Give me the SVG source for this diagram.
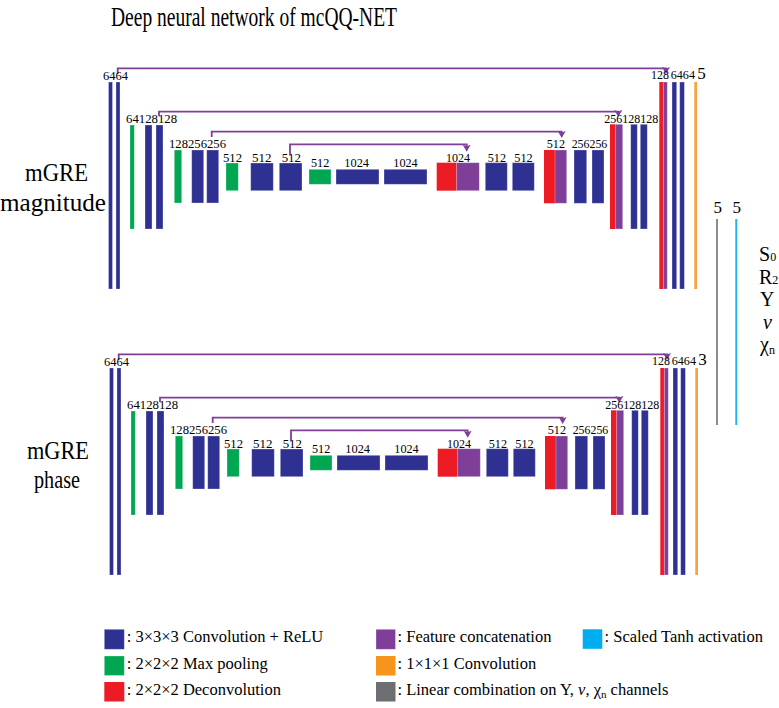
<svg xmlns="http://www.w3.org/2000/svg" width="779" height="708" viewBox="0 0 779 708">
<defs>
<style>
text{font-family:"Liberation Serif","Times New Roman",serif;fill:#000}
.n{font-size:12px}
.big{font-size:17px}
.lg{font-size:16.5px}
.side{font-size:20px}
.b{fill:#2E3192}
.g{fill:#00A651}
.r{fill:#ED1C24}
.p{fill:#7F3F98}
.o{fill:#F7A23A}
rect.b,rect.g,rect.p{stroke:#fff;stroke-opacity:.35;stroke-width:.8}
.skip{fill:none;stroke:#7F3F98;stroke-width:1.8;marker-end:url(#ah)}
</style>
<marker id="ah" viewBox="0 0 7 8" refX="4" refY="4" markerWidth="7" markerHeight="8" markerUnits="userSpaceOnUse" orient="auto"><path d="M0,0 L7,4 L0,8 L1.5,4 z" fill="#7F3F98"/></marker>
</defs>
<rect width="779" height="708" fill="#fff"/>
<text id="title" x="111" y="26" font-size="28" textLength="286" lengthAdjust="spacingAndGlyphs">Deep neural network of mcQQ-NET</text>

<g id="label-magnitude">
<text x="25" y="181" font-size="25" textLength="63" lengthAdjust="spacingAndGlyphs">mGRE</text>
<text x="0" y="211" font-size="25" textLength="106" lengthAdjust="spacingAndGlyphs">magnitude</text>
</g>
<g id="label-phase">
<text x="27" y="459" font-size="25" textLength="62" lengthAdjust="spacingAndGlyphs">mGRE</text>
<text x="34" y="488" font-size="25" textLength="46" lengthAdjust="spacingAndGlyphs">phase</text>
</g>

<g id="net-magnitude">
<g id="connectors-mag">
<path class="skip" d="M117.7,74 V68.3 H666 V71"/>
<path class="skip" d="M159,116 V111.7 H618.3 V114"/>
<path class="skip" d="M211.7,137 V131.7 H561.7 V135"/>
<path class="skip" d="M290,155 V144.3 H466.7 V148.7"/>
</g>
<g id="mag-c1"><rect class="b" x="108.5" y="82" width="4" height="207"/><rect class="b" x="116" y="82" width="4" height="207"/><text class="n" x="103" y="80" textLength="25" lengthAdjust="spacingAndGlyphs">6464</text></g>
<g id="mag-pool1"><rect class="g" x="130" y="125" width="4.3" height="104"/><text class="n" x="126" y="123" textLength="51" lengthAdjust="spacingAndGlyphs">64128128</text></g>
<g id="mag-c2"><rect class="b" x="145" y="125" width="7" height="104"/><rect class="b" x="156" y="125" width="7" height="104"/></g>
<g id="mag-pool2"><rect class="g" x="174.3" y="150" width="7.4" height="53"/><text class="n" x="169" y="148" textLength="57" lengthAdjust="spacingAndGlyphs">128256256</text></g>
<g id="mag-c3"><rect class="b" x="191.7" y="150" width="12" height="53"/><rect class="b" x="206.7" y="150" width="12" height="53"/></g>
<g id="mag-pool3"><rect class="g" x="226" y="163" width="12.3" height="27.7"/><text class="n" x="223" y="161.7" textLength="19" lengthAdjust="spacingAndGlyphs">512</text></g>
<g id="mag-c4"><rect class="b" x="250.7" y="163" width="22.6" height="27.7"/><rect class="b" x="279.3" y="163" width="22.7" height="27.7"/><text class="n" x="252" y="161.7" textLength="19.5" lengthAdjust="spacingAndGlyphs">512</text><text class="n" x="281.7" y="161.7" textLength="19.3" lengthAdjust="spacingAndGlyphs">512</text></g>
<g id="mag-pool4"><rect class="g" x="309" y="169.3" width="22" height="15"/><text class="n" x="311" y="166.7" textLength="18.3" lengthAdjust="spacingAndGlyphs">512</text></g>
<g id="mag-c5"><rect class="b" x="336" y="169.3" width="43" height="15"/><rect class="b" x="384" y="169.3" width="43" height="15"/><text class="n" x="344.3" y="166.7" textLength="24.7" lengthAdjust="spacingAndGlyphs">1024</text><text class="n" x="393.3" y="166.7" textLength="24.4" lengthAdjust="spacingAndGlyphs">1024</text></g>
<g id="mag-up4"><rect class="r" x="436.7" y="162.7" width="20" height="28"/><rect class="p" x="456.7" y="162.7" width="22.6" height="28"/><text class="n" x="446" y="161.7" textLength="24" lengthAdjust="spacingAndGlyphs">1024</text></g>
<g id="mag-c6"><rect class="b" x="485.3" y="162.7" width="22" height="28"/><rect class="b" x="512.3" y="162.7" width="22" height="28"/><text class="n" x="487.7" y="161.7" textLength="18.3" lengthAdjust="spacingAndGlyphs">512</text><text class="n" x="514.3" y="161.7" textLength="18.4" lengthAdjust="spacingAndGlyphs">512</text></g>
<g id="mag-up3"><rect class="r" x="544" y="150" width="11" height="53.3"/><rect class="p" x="555" y="150" width="11.7" height="53.3"/><text class="n" x="546.7" y="148.3" textLength="18.3" lengthAdjust="spacingAndGlyphs">512</text></g>
<g id="mag-c7"><rect class="b" x="574" y="150" width="12.7" height="53.3"/><rect class="b" x="592" y="150" width="12" height="53.3"/><text class="n" x="571.7" y="148" textLength="35.6" lengthAdjust="spacingAndGlyphs">256256</text></g>
<g id="mag-up2"><rect class="r" x="610" y="124.3" width="5.7" height="104.7"/><rect class="p" x="615.7" y="124.3" width="7" height="104.7"/><text class="n" x="604.3" y="123.3" textLength="54" lengthAdjust="spacingAndGlyphs">256128128</text></g>
<g id="mag-c8"><rect class="b" x="630.7" y="124.3" width="6.6" height="104.7"/><rect class="b" x="640.3" y="124.3" width="7" height="104.7"/></g>
<g id="mag-up1"><rect class="r" x="659.3" y="82" width="4" height="207"/><rect class="p" x="663.3" y="82" width="4" height="207"/><text class="n" x="651" y="79" textLength="18" lengthAdjust="spacingAndGlyphs">128</text></g>
<g id="mag-c9"><rect class="b" x="672" y="82" width="4.7" height="207"/><rect class="b" x="679.7" y="82" width="4.7" height="207"/><text class="n" x="670.7" y="79" textLength="24.3" lengthAdjust="spacingAndGlyphs">6464</text></g>
<g id="mag-out"><rect class="o" x="694.3" y="82" width="2.7" height="207"/><text class="big" x="697.3" y="79">5</text></g>
</g>

<g id="net-phase" transform="translate(1,286)">
<g id="connectors-phase">
<path class="skip" d="M117.7,74 V68.3 H666 V71"/>
<path class="skip" d="M159,116 V111.7 H618.3 V114"/>
<path class="skip" d="M211.7,137 V131.7 H561.7 V135"/>
<path class="skip" d="M290,155 V144.3 H466.7 V148.7"/>
</g>
<g id="ph-c1"><rect class="b" x="108.5" y="82" width="4" height="207"/><rect class="b" x="116" y="82" width="4" height="207"/><text class="n" x="103" y="80" textLength="25" lengthAdjust="spacingAndGlyphs">6464</text></g>
<g id="ph-pool1"><rect class="g" x="130" y="125" width="4.3" height="104"/><text class="n" x="126" y="123" textLength="51" lengthAdjust="spacingAndGlyphs">64128128</text></g>
<g id="ph-c2"><rect class="b" x="145" y="125" width="7" height="104"/><rect class="b" x="156" y="125" width="7" height="104"/></g>
<g id="ph-pool2"><rect class="g" x="174.3" y="150" width="7.4" height="53"/><text class="n" x="169" y="148" textLength="57" lengthAdjust="spacingAndGlyphs">128256256</text></g>
<g id="ph-c3"><rect class="b" x="191.7" y="150" width="12" height="53"/><rect class="b" x="206.7" y="150" width="12" height="53"/></g>
<g id="ph-pool3"><rect class="g" x="226" y="163" width="12.3" height="27.7"/><text class="n" x="223" y="161.7" textLength="19" lengthAdjust="spacingAndGlyphs">512</text></g>
<g id="ph-c4"><rect class="b" x="250.7" y="163" width="22.6" height="27.7"/><rect class="b" x="279.3" y="163" width="22.7" height="27.7"/><text class="n" x="252" y="161.7" textLength="19.5" lengthAdjust="spacingAndGlyphs">512</text><text class="n" x="281.7" y="161.7" textLength="19.3" lengthAdjust="spacingAndGlyphs">512</text></g>
<g id="ph-pool4"><rect class="g" x="309" y="169.3" width="22" height="15"/><text class="n" x="311" y="166.7" textLength="18.3" lengthAdjust="spacingAndGlyphs">512</text></g>
<g id="ph-c5"><rect class="b" x="336" y="169.3" width="43" height="15"/><rect class="b" x="384" y="169.3" width="43" height="15"/><text class="n" x="344.3" y="166.7" textLength="24.7" lengthAdjust="spacingAndGlyphs">1024</text><text class="n" x="393.3" y="166.7" textLength="24.4" lengthAdjust="spacingAndGlyphs">1024</text></g>
<g id="ph-up4"><rect class="r" x="436.7" y="162.7" width="20" height="28"/><rect class="p" x="456.7" y="162.7" width="22.6" height="28"/><text class="n" x="446" y="161.7" textLength="24" lengthAdjust="spacingAndGlyphs">1024</text></g>
<g id="ph-c6"><rect class="b" x="485.3" y="162.7" width="22" height="28"/><rect class="b" x="512.3" y="162.7" width="22" height="28"/><text class="n" x="487.7" y="161.7" textLength="18.3" lengthAdjust="spacingAndGlyphs">512</text><text class="n" x="514.3" y="161.7" textLength="18.4" lengthAdjust="spacingAndGlyphs">512</text></g>
<g id="ph-up3"><rect class="r" x="544" y="150" width="11" height="53.3"/><rect class="p" x="555" y="150" width="11.7" height="53.3"/><text class="n" x="546.7" y="148.3" textLength="18.3" lengthAdjust="spacingAndGlyphs">512</text></g>
<g id="ph-c7"><rect class="b" x="574" y="150" width="12.7" height="53.3"/><rect class="b" x="592" y="150" width="12" height="53.3"/><text class="n" x="571.7" y="148" textLength="35.6" lengthAdjust="spacingAndGlyphs">256256</text></g>
<g id="ph-up2"><rect class="r" x="610" y="124.3" width="5.7" height="104.7"/><rect class="p" x="615.7" y="124.3" width="7" height="104.7"/><text class="n" x="604.3" y="123.3" textLength="54" lengthAdjust="spacingAndGlyphs">256128128</text></g>
<g id="ph-c8"><rect class="b" x="630.7" y="124.3" width="6.6" height="104.7"/><rect class="b" x="640.3" y="124.3" width="7" height="104.7"/></g>
<g id="ph-up1"><rect class="r" x="659.3" y="82" width="4" height="207"/><rect class="p" x="663.3" y="82" width="4" height="207"/><text class="n" x="651" y="79" textLength="18" lengthAdjust="spacingAndGlyphs">128</text></g>
<g id="ph-c9"><rect class="b" x="672" y="82" width="4.7" height="207"/><rect class="b" x="679.7" y="82" width="4.7" height="207"/><text class="n" x="670.7" y="79" textLength="24.3" lengthAdjust="spacingAndGlyphs">6464</text></g>
<g id="ph-out"><rect class="o" x="694.3" y="82" width="2.7" height="207"/><text class="big" x="697.3" y="79">3</text></g>
</g>

<g id="lincomb"><rect x="716" y="219" width="2" height="206" fill="#8C8C8C"/><text class="big" x="713.5" y="213.3">5</text></g>
<g id="tanh"><rect x="735.3" y="219" width="2" height="206" fill="#1CB5EC"/><text class="big" x="732.5" y="213.3">5</text></g>
<g id="outputs">
<text class="side" x="759" y="261">S<tspan font-size="12">0</tspan></text>
<text class="side" x="759" y="284">R<tspan font-size="12">2</tspan></text>
<text class="side" x="760" y="306">Y</text>
<text class="side" x="763" y="329" font-style="italic">ν</text>
<text class="side" x="760" y="351">χ<tspan font-size="12" dy="3">n</tspan></text>
</g>

<g id="legend">
<rect class="b" x="104.3" y="629.3" width="20" height="20"/>
<text class="lg" x="126.7" y="642">: 3×3×3 Convolution + ReLU</text>
<rect class="g" x="104.3" y="656" width="20" height="19.5"/>
<text class="lg" x="126.7" y="668.5">: 2×2×2 Max pooling</text>
<rect class="r" x="104.3" y="682" width="20" height="19.5"/>
<text class="lg" x="126.7" y="695">: 2×2×2 Deconvolution</text>
<rect class="p" x="376" y="629.3" width="19.5" height="20"/>
<text class="lg" x="397.5" y="642">: Feature concatenation</text>
<rect x="376" y="656" width="19.5" height="19.5" fill="#F7941D"/>
<text class="lg" x="397.5" y="668.5">: 1×1×1 Convolution</text>
<rect x="376" y="682" width="19.5" height="19.5" fill="#6D6E71"/>
<text class="lg" x="397.5" y="695">: Linear combination on Y, <tspan font-style="italic">ν</tspan>, χ<tspan font-size="11" dy="3">n</tspan><tspan dy="-3"> channels</tspan></text>
<rect x="582.7" y="629.3" width="19.6" height="19.5" fill="#00AEEF"/>
<text class="lg" x="604.5" y="642">: Scaled Tanh activation</text>
</g>
</svg>
